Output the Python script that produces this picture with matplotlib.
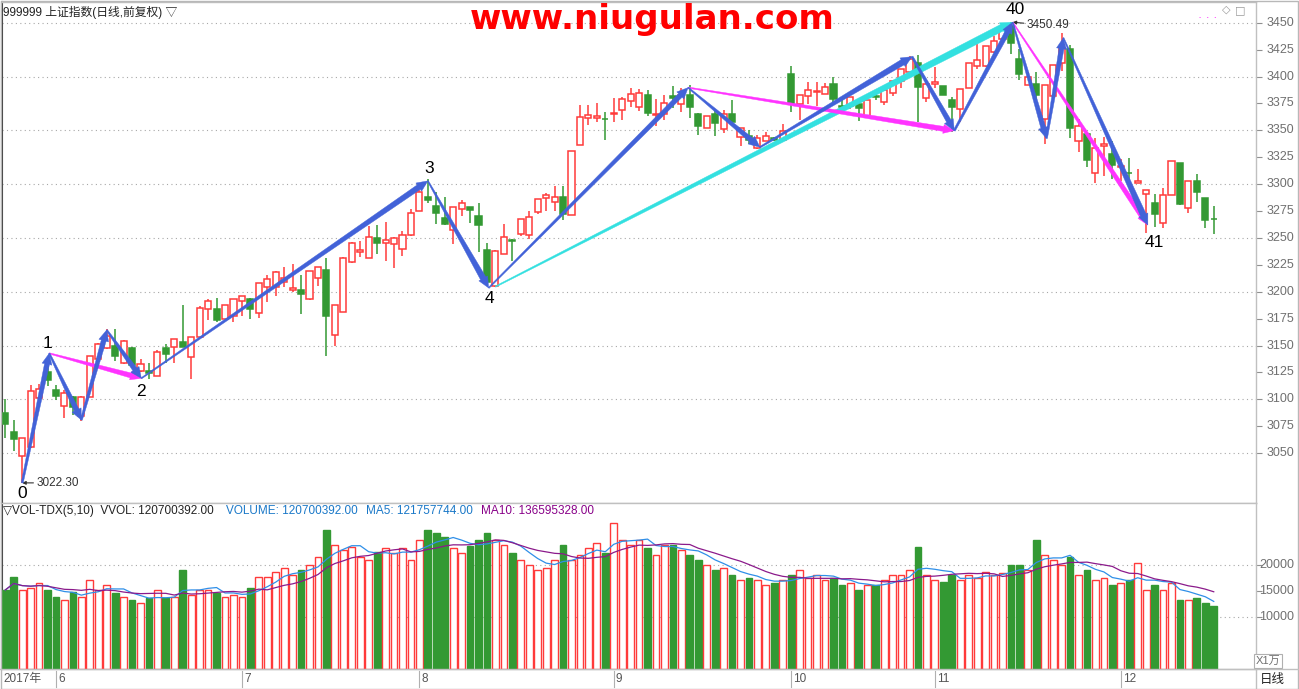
import numpy as np
import pandas as pd
import matplotlib
matplotlib.use('Agg')
import matplotlib.pyplot as plt
from matplotlib.patches import Polygon, Rectangle
from matplotlib.transforms import IdentityTransform
from matplotlib.lines import Line2D

plt.rcParams['font.family'] = ['Liberation Sans', 'Noto Sans CJK SC', 'DejaVu Sans']

# ---------------- data ----------------
opens = [3087.6, 3070, 3047.5, 3055.6, 3101.5, 3125.5, 3109, 3094, 3102, 3084.5,
         3102, 3137, 3148, 3150, 3134, 3147.5, 3126, 3126, 3121.7, 3148,
         3149, 3153, 3139, 3157.5, 3183.5, 3183.5, 3175, 3177, 3191.6, 3193,
         3180, 3204, 3204, 3208.7, 3202, 3202, 3193, 3212.4, 3220, 3160,
         3181.4, 3228, 3236.6, 3231, 3249.7, 3245, 3244, 3240, 3253, 3275,
         3288.5, 3280, 3268.7, 3257, 3277, 3278.3, 3270, 3238.4, 3205.3, 3235,
         3248, 3253.3, 3253, 3274, 3287, 3283, 3287.6, 3271.5, 3336, 3361.6,
         3361.3, 3361, 3365.5, 3369, 3377, 3371.6, 3383, 3364.5, 3365.4, 3381.5,
         3374.7, 3383, 3364.8, 3352.5, 3365.4, 3351.5, 3364.8, 3344, 3344.4, 3334,
         3340, 3343, 3340.7, 3402.5, 3374.7, 3381.5, 3385.5, 3384, 3393, 3372.6,
         3373, 3374.5, 3363.7, 3381.6, 3376, 3384.5, 3396, 3404, 3413, 3380,
         3393, 3391.6, 3378, 3369.5, 3389, 3409.5, 3410, 3423, 3434.5, 3447,
         3416.5, 3392.5, 3393, 3361, 3382, 3413, 3425.5, 3340.3, 3347, 3310.5,
         3335.8, 3328.3, 3315.8, 3310.7, 3301.2, 3290.7, 3282.3, 3263.7, 3290, 3319.7,
         3277.7, 3303.2, 3287, 3267.8]
highs = [3100, 3081, 3064, 3113, 3114.6, 3133, 3113, 3109, 3103, 3103,
         3140, 3152, 3165, 3165, 3155, 3149, 3137, 3134, 3146, 3151,
         3156.5, 3187.6, 3158, 3187, 3193, 3194, 3188, 3193, 3196, 3194.4,
         3208, 3215.5, 3219, 3223, 3226, 3215.5, 3219, 3222.7, 3231, 3188,
         3232, 3246, 3247.5, 3261, 3262, 3265, 3251, 3256.5, 3276.7, 3294.7,
         3305, 3293, 3288, 3279, 3285, 3278.3, 3282.7, 3245, 3239, 3262.5,
         3248.6, 3268, 3274.6, 3286.4, 3292, 3298.5, 3298, 3331, 3373.7, 3373.7,
         3375.5, 3367, 3380, 3380.8, 3389.5, 3388.6, 3387.6, 3379, 3383, 3391,
         3389, 3391.7, 3366, 3363, 3369, 3369, 3377.8, 3352.5, 3350.6, 3346,
         3348, 3343.5, 3356, 3410, 3383, 3394.7, 3394.7, 3394, 3400, 3380,
         3381.4, 3378, 3378, 3383.9, 3389.4, 3396, 3407, 3419, 3419.6, 3396,
         3409, 3391.6, 3381, 3388, 3413, 3430.7, 3428, 3438, 3446.6, 3450.49,
         3426, 3404, 3404, 3392.5, 3411, 3440.5, 3429.5, 3360.5, 3347, 3343.3,
         3343.5, 3340.5, 3323.4, 3324, 3314.5, 3294.2, 3290.7, 3296, 3321.2, 3319.7,
         3302.6, 3309.4, 3287, 3280]
lows = [3064, 3052, 3022.3, 3055, 3101, 3112, 3099, 3083, 3085, 3080,
        3102, 3135, 3147, 3136, 3133, 3129, 3125, 3118.6, 3121.7, 3134,
        3134, 3149, 3119, 3157.5, 3174, 3172, 3175, 3172, 3177.6, 3175,
        3176, 3190, 3196, 3204, 3200, 3179, 3192, 3205.6, 3140.4, 3150,
        3181.4, 3226.5, 3232.6, 3231, 3235, 3229, 3222, 3233.5, 3252, 3275,
        3282, 3263, 3261.6, 3244.6, 3270, 3264, 3237, 3209, 3204.5, 3235,
        3229, 3252, 3249, 3272, 3275, 3275, 3267, 3271.5, 3336, 3355,
        3357.6, 3341, 3358, 3360, 3372, 3368, 3363, 3353.7, 3360, 3371,
        3367, 3361.7, 3345.4, 3352.5, 3344.8, 3347.5, 3356, 3335, 3337.7, 3333,
        3340, 3340.5, 3340.7, 3367, 3360, 3374.7, 3373, 3384, 3374, 3370,
        3370, 3359, 3363.7, 3378, 3374, 3382, 3389, 3404, 3357.5, 3376,
        3389, 3383, 3348.5, 3357.5, 3389, 3407, 3408.5, 3421.5, 3432, 3420.5,
        3396.5, 3392, 3374.7, 3337.5, 3382, 3405, 3343, 3329.5, 3316, 3301,
        3308, 3305, 3302.5, 3303.5, 3301.2, 3254.8, 3259.7, 3259, 3290, 3280.5,
        3273.6, 3283, 3259.6, 3254]
closes = [3077, 3063, 3064, 3108, 3110, 3117.7, 3103, 3106, 3093, 3102,
          3140, 3151, 3159, 3140, 3154, 3132, 3133, 3124, 3144.4, 3142,
          3156.5, 3149, 3158, 3185, 3191.6, 3174, 3188, 3193, 3196, 3184,
          3208, 3212, 3218, 3213, 3203.4, 3198, 3219, 3222.7, 3177.6, 3188,
          3231, 3245, 3238.8, 3250.6, 3245, 3248, 3249.7, 3253, 3273, 3292.5,
          3285.5, 3273, 3262.5, 3279, 3282, 3276, 3262, 3209, 3237.5, 3251,
          3247.4, 3268, 3269, 3286.4, 3290, 3287.6, 3272, 3331, 3362, 3364.7,
          3363, 3360.4, 3366.5, 3379, 3384, 3385, 3366, 3365.5, 3375.6, 3379.6,
          3383, 3371.6, 3354, 3363, 3356.8, 3365.4, 3357.7, 3352.5, 3340.7, 3343,
          3344.8, 3340.7, 3349, 3374.7, 3383, 3387.6, 3386.5, 3390, 3379, 3372,
          3380.7, 3370.5, 3378, 3381, 3387.6, 3396, 3407, 3416.5, 3390, 3393,
          3395, 3383, 3372, 3388, 3413, 3415.5, 3428, 3433, 3444, 3431,
          3402.5, 3399.2, 3383, 3392.5, 3410.5, 3426.5, 3352.5, 3353.6, 3322.8, 3334,
          3337.7, 3318.2, 3317.3, 3310.3, 3303.3, 3294.2, 3272, 3290, 3321.2, 3281.4,
          3302.6, 3292.3, 3266.5, 3267.2]
# volume in 万 (x10^4)
volumes = [15192, 17692, 15192, 15577, 16538, 15192, 13846, 13269, 14808, 13846,
           17115, 15192, 16154, 14615, 13846, 13269, 12692, 13654, 15192, 13654,
           13846, 19038, 14231, 15192, 15192, 14615, 13846, 14231, 13846, 15577,
           17692, 17692, 18654, 19423, 18077, 19038, 20000, 21538, 26731, 23846,
           22885, 23462, 21538, 20962, 22500, 23269, 22308, 23269, 20962, 24808,
           26731, 26154, 25385, 23269, 22308, 23654, 24808, 26154, 24808, 23846,
           22308, 20962, 20000, 19038, 19423, 20962, 23846, 20962, 21923, 23269,
           24231, 22308, 28077, 24808, 23846, 24808, 23269, 21923, 23846, 23846,
           22885, 21923, 20962, 20000, 19038, 19423, 18077, 17115, 17500, 17115,
           16154, 16538, 17115, 18077, 19038, 17500, 18077, 17115, 17500, 16154,
           16538, 15192, 16154, 16154, 17115, 18077, 18077, 19038, 23500, 18077,
           17115, 16731, 18077, 17115, 18077, 17500, 18654, 18077, 18462, 20000,
           20000, 19038, 24808, 21923, 20962, 20000, 21538, 18077, 19038, 17115,
           17500, 16154, 16538, 17115, 20385, 15192, 16154, 15192, 16538, 13269,
           13269, 13654, 12692, 12070]

month_pos = [6, 28, 49, 72, 93, 110, 132]
month_labels = ['6', '7', '8', '9', '10', '11', '12']
price_ticks = list(range(3050, 3451, 25))
vol_ticks = [10000, 15000, 20000]

# zigzag turning points (index, price)
z = {
    '0': (2.0, 3022.3), '1': (5.2, 3142.7), 'a': (9.0, 3080.8), 'b': (12.0, 3164.4),
    '2': (16.1, 3119.5), '3': (50.0, 3303.0), '4': (57.2, 3203.5), 'c': (80.8, 3389.7),
    'd': (89.3, 3334.3), 'e': (107.3, 3418.5), 'f': (112.3, 3349.7),
    '40': (119.2, 3450.49), 'g': (123.2, 3342.6), 'h': (125.2, 3436.0),
    '41': (135.2, 3262.0), '4c': (58.0, 3204.7),
}

RED = '#ff3a3a'
GREEN = '#339933'
BLUE = '#4262d8'
CYAN = '#33e0e0'
MAG = '#ff33ff'

W, H = 1299, 689
fig = plt.figure(figsize=(W / 100, H / 100), dpi=100)
fig.patch.set_facecolor('white')


def fa(x0, y0, x1, y1):
    return [x0 / W, 1 - y1 / H, (x1 - x0) / W, (y1 - y0) / H]


ax = fig.add_axes(fa(2, 2, 1256, 503))
axv = fig.add_axes(fa(2, 503, 1256, 669))
XL = (-0.39, 148.0)
for a in (ax, axv):
    a.set_xlim(*XL)
    a.set_autoscale_on(False)
    for s in a.spines.values():
        s.set_color('#c0c0c0')
        s.set_linewidth(1)
    a.spines['left'].set_color('#333333')
    a.spines['left'].set_linewidth(1.5)
    a.set_xticks([])

ax.set_ylim(3003.6, 3469.3)
axv.set_ylim(0, 31900)

# gridlines
for p in range(3050, 3451, 50):
    ax.axhline(p, color='#a8a8a8', lw=0.8, ls=(0, (1, 3)), zorder=0)
for v in (10000, 20000):
    axv.axhline(v, color='#a8a8a8', lw=0.8, ls=(0, (1, 3)), zorder=0)

# candles
n = len(opens)
idx = np.arange(n)
bw = 0.72
for i in range(n):
    o, h, l, c = opens[i], highs[i], lows[i], closes[i]
    up = c >= o
    col = RED if up else GREEN
    ax.vlines(i, l, h, color=col, lw=1.1, zorder=2)
    bottom = min(o, c)
    ht = max(abs(c - o), 0.35)
    ax.add_patch(Rectangle((i - bw / 2, bottom), bw, ht,
                           facecolor='white' if up else GREEN,
                           edgecolor=col, lw=1.1, zorder=3))
    axv.add_patch(Rectangle((i - 0.4, 0), 0.8, volumes[i],
                            facecolor='white' if up else GREEN,
                            edgecolor=col, lw=1.0, zorder=3))

vs = pd.Series(volumes, dtype=float)
ma5 = vs.rolling(5, min_periods=1).mean()
ma10 = vs.rolling(10, min_periods=1).mean()
axv.plot(idx, ma5, color='#2f8fe8', lw=0.9, zorder=4)
axv.plot(idx, ma10, color='#8b1a8b', lw=0.9, zorder=4)

# right axis ticks (labels drawn manually, right-aligned)
for a, ticks in ((ax, price_ticks), (axv, vol_ticks)):
    a.yaxis.tick_right()
    a.set_yticks(ticks)
    a.set_yticklabels([])
    a.tick_params(axis='y', length=4, width=0.8, color='#909090')
    Tr = a.transData
    for t in ticks:
        yp = Tr.transform((0, t))[1]
        fig.text(1294 / W, yp / H, str(t), fontsize=9, color='#707070',
                 ha='right', va='center')


def taper(a, p0, p1, w0, w1, color, hl=11, hw=10, zo=6):
    T = a.transData
    q0 = np.array(T.transform(p0))
    q1 = np.array(T.transform(p1))
    d = q1 - q0
    L = np.hypot(*d)
    u = d / L
    nrm = np.array([-u[1], u[0]])
    pb = q1 - u * hl
    verts = [q0 + nrm * w0 / 2, pb + nrm * w1 / 2, pb + nrm * hw / 2, q1,
             pb - nrm * hw / 2, pb - nrm * w1 / 2, q0 - nrm * w0 / 2]
    poly = Polygon(verts, closed=True, transform=IdentityTransform(),
                   facecolor=color, edgecolor=color, lw=0.3, zorder=zo, clip_on=False)
    a.add_artist(poly)


# cyan
taper(ax, z['4c'], z['40'], 1.2, 7, CYAN, hl=12, hw=11, zo=5)
# magenta
taper(ax, z['1'], z['2'], 1.2, 5, MAG, hl=11, hw=9, zo=5)
taper(ax, z['c'], z['f'], 1.2, 5, MAG, hl=11, hw=9, zo=5)
taper(ax, z['40'], z['41'], 1.0, 5, MAG, hl=11, hw=9, zo=5)
# blue zigzag
blue_path = [('0', '1', 2, 5), ('1', 'a', 1.5, 5), ('a', 'b', 2, 5), ('b', '2', 1.5, 5),
             ('2', '3', 1.2, 5.5), ('3', '4', 1.2, 6), ('4', 'c', 1.2, 5), ('c', 'd', 1.2, 5),
             ('d', 'e', 1.5, 6), ('e', 'f', 2, 5), ('f', '40', 2, 5), ('40', 'g', 1.2, 5),
             ('g', 'h', 2, 5), ('h', '41', 1.2, 6)]
for s, e, w0, w1 in blue_path:
    taper(ax, z[s], z[e], w0, w1, BLUE, hl=11, hw=10, zo=6)

# zigzag labels
lab_off = {'0': (0, -11), '1': (-2, 10), '2': (0, -13), '3': (1, 12), '4': (1, -11),
           '40': (3, 13), '41': (6, -17)}
for k, off in lab_off.items():
    ax.annotate(k, xy=z[k], xytext=off, textcoords='offset pixels', ha='center',
                va='center', fontsize=12.5, color='black', zorder=8,
                family=['Liberation Sans', 'DejaVu Sans'])

# extreme price notes
ax.annotate('3022.30', xy=z['0'], xytext=(14, 0), textcoords='offset pixels',
            ha='left', va='center', fontsize=8.5, color='#333333',
            arrowprops=dict(arrowstyle='-|>', color='#333333', lw=0.8,
                            shrinkA=0, shrinkB=0, mutation_scale=5))
ax.annotate('3450.49', xy=z['40'], xytext=(14, -3), textcoords='offset pixels',
            ha='left', va='center', fontsize=8.5, color='#333333',
            arrowprops=dict(arrowstyle='-|>', color='#333333', lw=0.8,
                            shrinkA=0, shrinkB=0, mutation_scale=5))

# headers
fig.text(3 / W, 1 - 12 / H, '999999 上证指数(日线,前复权) ▽', fontsize=8.5,
         color='#222222', va='center', ha='left',
         family=['Liberation Sans', 'Noto Sans CJK SC', 'DejaVu Sans'])
fig.text(652 / W, 1 - 19 / H, 'www.niugulan.com', fontsize=24.5, fontweight='bold',
         color='#ff0000', ha='center', va='center', family=['DejaVu Sans'])
fig.text(1208 / W, 1 - 18 / H, '· · ·', fontsize=9, color=MAG, ha='center', va='center')
fig.text(1226 / W, 1 - 10 / H, '◇', fontsize=8, color='#999999', ha='center', va='center',
         family=['DejaVu Sans'])
fig.text(1240 / W, 1 - 10 / H, '□', fontsize=8, color='#999999', ha='center', va='center',
         family=['DejaVu Sans'])

hy = 1 - 511 / H
fig.text(3 / W, hy, '▽VOL-TDX(5,10)  VVOL: 120700392.00', fontsize=8.5, color='#222222',
         va='center', family=['Liberation Sans', 'DejaVu Sans'])
fig.text(226 / W, hy, 'VOLUME: 120700392.00', fontsize=8.5, color='#1a78c8', va='center')
fig.text(366 / W, hy, 'MA5: 121757744.00', fontsize=8.5, color='#1a78c8', va='center')
fig.text(481 / W, hy, 'MA10: 136595328.00', fontsize=8.5, color='#880088', va='center')

# date strip
fig.add_artist(Line2D([0, 1], [1 - 669 / H, 1 - 669 / H], color='#c0c0c0', lw=1,
                      transform=fig.transFigure))
fig.text(3 / W, 1 - 679 / H, '2017年', fontsize=8.5, color='#555555', va='center',
         family=['Liberation Sans', 'Noto Sans CJK SC'])
T = axv.transData
for pos, lab in zip(month_pos, month_labels):
    xp = T.transform((pos, 0))[0]
    fig.add_artist(Line2D([xp / W, xp / W], [1 - 671 / H, 1 - 687 / H], color='#b0b0b0',
                          lw=0.8, transform=fig.transFigure))
    fig.text((xp + 2) / W, 1 - 679 / H, lab, fontsize=8.5, color='#555555', va='center')
fig.add_artist(Line2D([1256 / W, 1256 / W], [1 - 669 / H, 0], color='#c0c0c0', lw=1,
                      transform=fig.transFigure))
fig.text(1272 / W, 1 - 679 / H, '日线', fontsize=9, color='#222222', ha='center', va='center',
         family=['Noto Sans CJK SC'])
fig.text(1268 / W, 1 - 661 / H, 'X1万', fontsize=8, color='#707070', ha='center', va='center',
         family=['Liberation Sans', 'Noto Sans CJK SC'],
         bbox=dict(boxstyle='square,pad=0.15', fc='white', ec='#b0b0b0', lw=0.8))
# outer border
fig.add_artist(Rectangle((0.5 / W, 0.5 / H), (W - 1.5) / W, (H - 1.5) / H, fill=False,
                         ec='#b8b8b8', lw=1, transform=fig.transFigure))

fig.savefig('out.png', dpi=100, facecolor='white')
